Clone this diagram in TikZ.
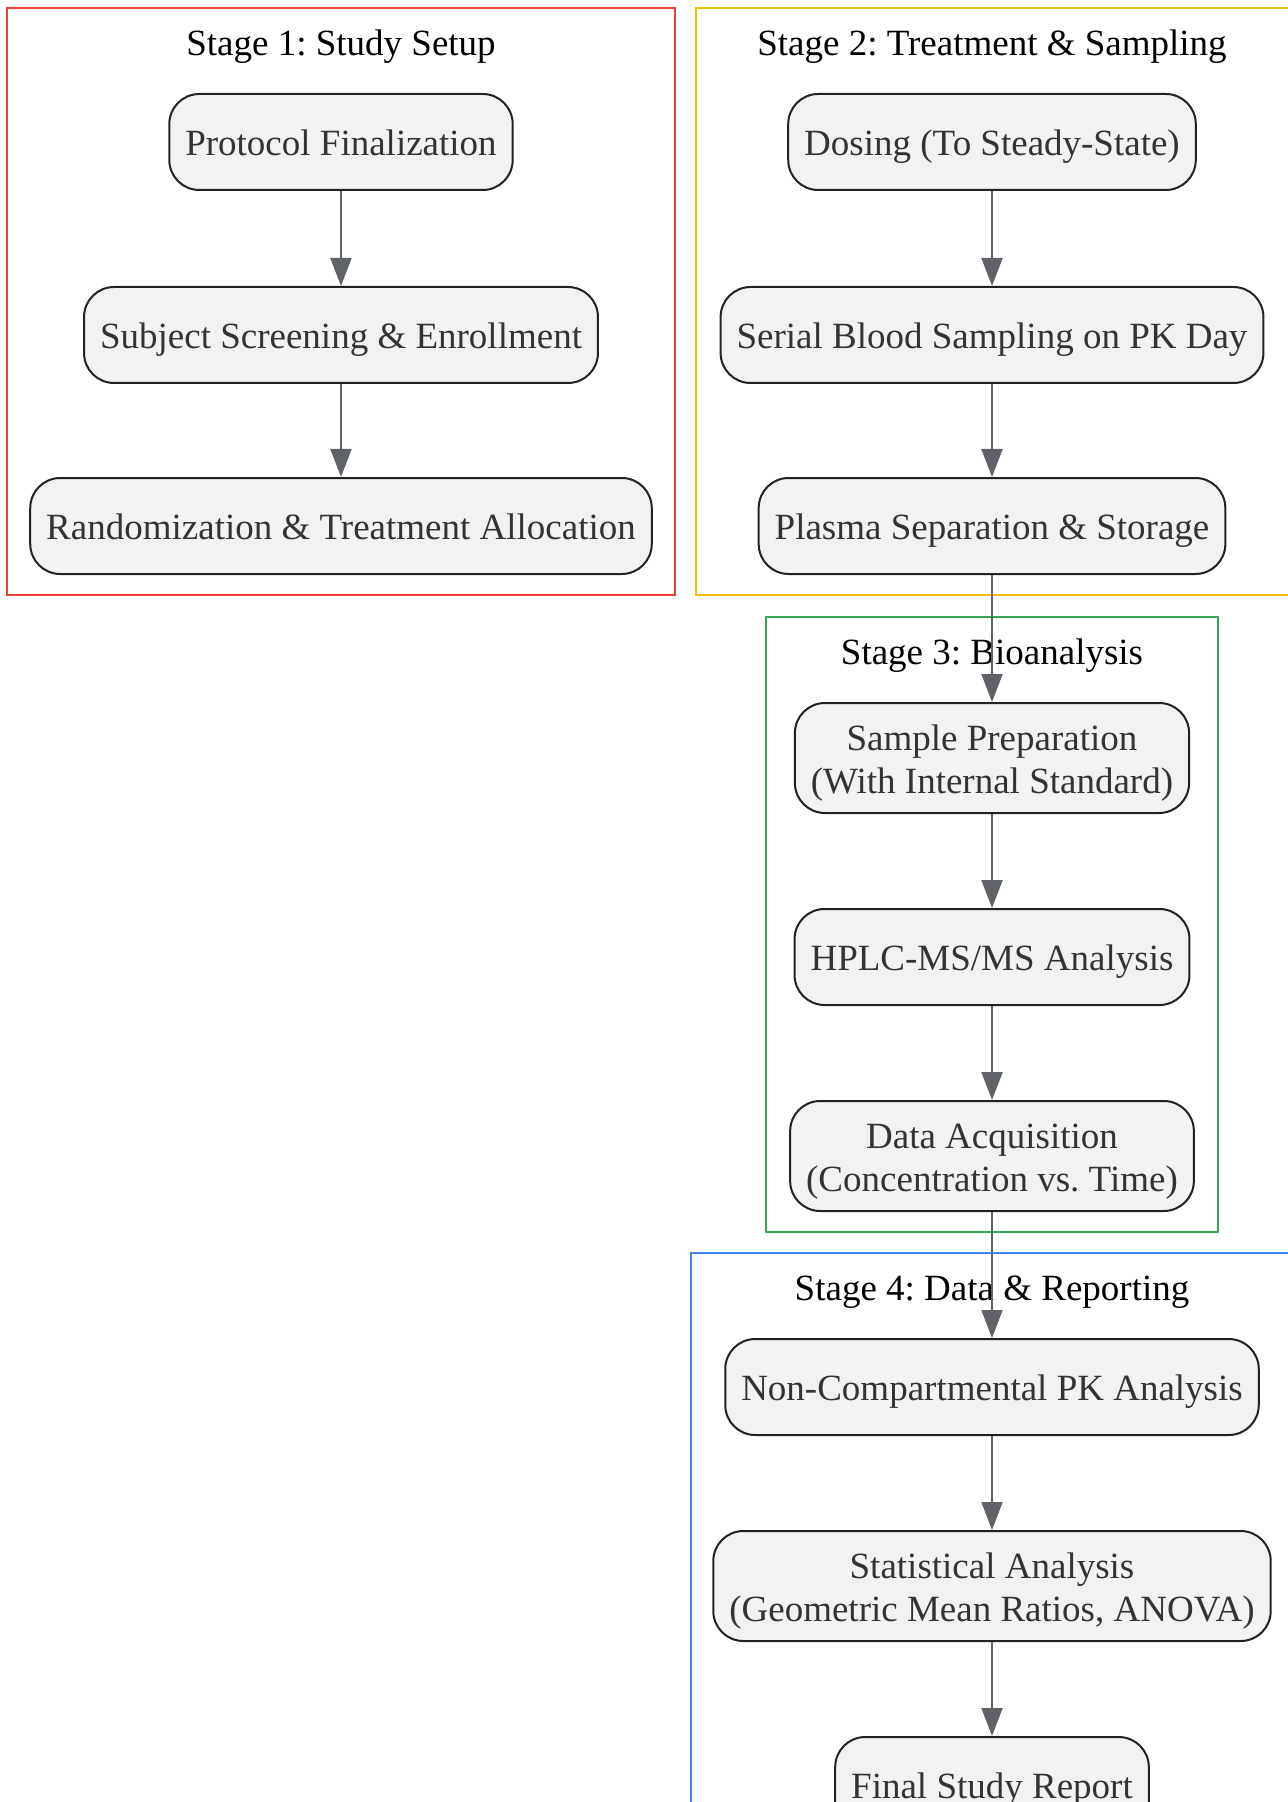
\documentclass[tikz,border=0pt]{standalone}
\usepackage{fontspec}
\setmainfont{Liberation Serif}
\usetikzlibrary{arrows.meta}
\frenchspacing

\definecolor{stageone}{HTML}{EA4335}
\definecolor{stagetwo}{HTML}{FBBC05}
\definecolor{stagethree}{HTML}{34A853}
\definecolor{stagefour}{HTML}{4285F4}
\definecolor{boxfill}{HTML}{F1F2F4}
\definecolor{boxline}{HTML}{222222}
\definecolor{boxtext}{HTML}{333333}
\definecolor{flowline}{HTML}{5F6368}

\newcommand{\boxstrut}{\rule[-4pt]{0pt}{21.5pt}}

\tikzset{
  stepbox/.style={draw=boxline, fill=boxfill, line width=1pt, rounded corners=15pt,
    align=center, inner xsep=8pt, inner ysep=6pt, minimum height=48pt,
    text=boxtext, font=\fontsize{18.5}{21.5}\selectfont,
    execute at begin node=\boxstrut, execute at end node=\boxstrut},
  stagetitle/.style={text=black, font=\fontsize{18.5}{21.5}\selectfont},
  stageframe/.style={line width=1pt},
  flow/.style={draw=flowline, line width=1pt, -{Triangle[length=14pt,width=10.5pt]}}
}

\begin{document}
\begin{tikzpicture}[x=0.5pt, y=-0.5pt]

\useasboundingbox (0,0) rectangle (1287,1802);

\def \colA {341}
\def \colB {992}

% stage frames
\draw[stageframe, stageone]   (7,8)     rectangle (675,595);
\draw[stageframe, stagetwo]   (696,8)   rectangle (1300,595);
\draw[stageframe, stagethree] (766,617) rectangle (1218,1232);
\draw[stageframe, stagefour]  (691,1253) rectangle (1300,1830);

\node[stagetitle] (title1) at (\colA,47)  {Stage 1: Study Setup};
\node[stagetitle] (title2) at (\colB,47)  {Stage 2: Treatment \& Sampling};
\node[stagetitle] (title3) at (\colB,656) {Stage 3: Bioanalysis};
\node[stagetitle] (title4) at (\colB,1292) {Stage 4: Data \& Reporting};

\node[stepbox] (protocol)  at (\colA,142) {Protocol Finalization};
\node[stepbox] (screening) at (\colA,335) {Subject Screening \& Enrollment};
\node[stepbox] (randomize) at (\colA,526) {Randomization \& Treatment Allocation};

\node[stepbox] (dosing)   at (\colB,142) {Dosing (To Steady-State)};
\node[stepbox] (sampling) at (\colB,335) {Serial Blood Sampling on PK Day};
\node[stepbox] (plasma)   at (\colB,526) {Plasma Separation \& Storage};

\node[stepbox] (prep)    at (\colB,758)  {\boxstrut Sample Preparation\\(With Internal Standard)\boxstrut};
\node[stepbox] (hplc)    at (\colB,957)  {HPLC-MS/MS Analysis};
\node[stepbox] (acquire) at (\colB,1156) {\boxstrut Data Acquisition\\(Concentration vs. Time)\boxstrut};

\node[stepbox] (nca)    at (\colB,1387) {Non-Compartmental PK Analysis};
\node[stepbox] (stats)  at (\colB,1586) {\boxstrut Statistical Analysis\\(Geometric Mean Ratios, ANOVA)\boxstrut};
\node[stepbox] (report) at (\colB,1785) {Final Study Report};

\foreach \a/\b in {protocol/screening, screening/randomize,
                   dosing/sampling, sampling/plasma, plasma/prep,
                   prep/hplc, hplc/acquire, acquire/nca,
                   nca/stats, stats/report}
{
    \draw[flow] (\a) -- (\b);
}
\end{tikzpicture}
\end{document}
